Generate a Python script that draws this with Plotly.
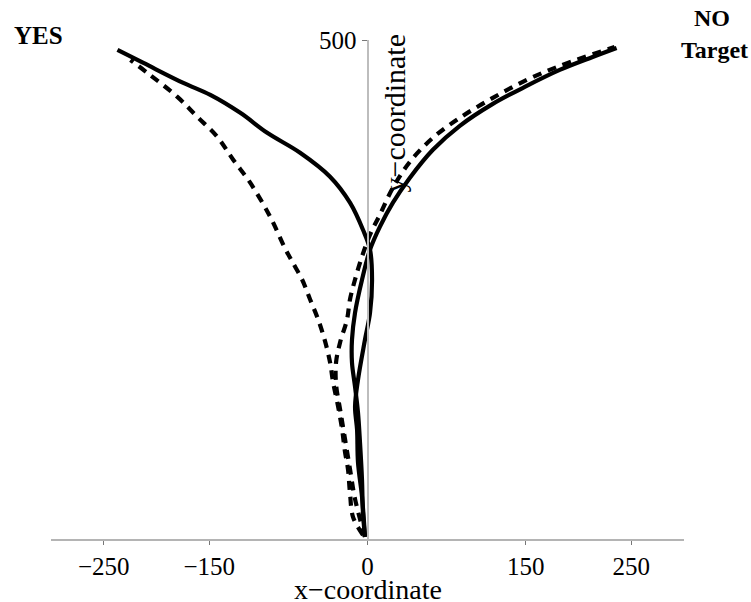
import plotly.graph_objects as go

# ---- data ----
yes_solid_x = [-2.4, -5.2, -9.0, -9.9, -11.8, -9.0, -2.4, 2.4, 4.3, 2.4, -4.3, -16.6, -35.5, -63.9, -95.1, -120.6, -149.0, -174.6, -212.4, -237.0]
yes_solid_y = [2.3, 42.4, 76.5, 109.5, 132.6, 159.6, 199.7, 226.8, 259.8, 289.9, 309.9, 337.0, 363.0, 387.0, 407.0, 427.0, 445.0, 457.0, 477.0, 490.0]

no_solid_x = [-2.4, -4.3, -5.2, -7.1, -9.0, -11.8, -14.7, -14.7, -11.8, -5.2, 2.4, 11.8, 24.1, 40.2, 62.0, 87.5, 118.8, 150.9, 182.2, 213.4, 236.1]
no_solid_y = [2.3, 26.4, 59.4, 96.5, 126.6, 152.6, 176.7, 199.7, 226.8, 259.8, 289.9, 313.0, 337.0, 362.0, 390.0, 414.0, 436.0, 454.0, 470.0, 483.0, 492.0]

yes_dash_x = [-4.3, -13.7, -16.6, -18.5, -21.3, -24.1, -27.9, -32.6, -35.5, -40.2, -46.8, -54.4, -62.0, -71.4, -78.5, -92.3, -111.2, -127.3, -142.4, -161.3, -180.2, -208.6, -224.7]
yes_dash_y = [4.0, 22.0, 46.0, 70.0, 87.0, 110.0, 133.0, 157.0, 177.0, 198.0, 220.0, 240.0, 260.0, 278.0, 292.0, 323.0, 357.0, 380.0, 403.0, 423.0, 443.0, 467.0, 480.0]

no_dash_x = [-2.4, -11.8, -16.6, -21.3, -26.0, -29.8, -29.8, -26.0, -19.4, -16.6, -11.8, -5.2, 2.4, 11.8, 24.1, 40.2, 62.0, 87.5, 118.8, 150.9, 182.2, 234.2]
no_dash_y = [2.0, 40.0, 70.0, 100.0, 130.0, 155.0, 177.0, 197.0, 220.0, 240.0, 260.0, 283.0, 305.0, 325.0, 352.0, 378.0, 402.0, 422.0, 442.0, 460.0, 474.0, 493.0]

x_ticks = [-250, -150, 0, 150, 250]
x_tick_text = ["\u2212250", "\u2212150", "0", "150", "250"]
y_ticks = [500]
y_tick_text = ["500"]

FONT = "Liberation Serif"

fig = go.Figure()
line_w = 4.2
for xs, ys, dash in [(yes_dash_x, yes_dash_y, "9px,7px"), (no_dash_x, no_dash_y, "9px,7px"),
                     (yes_solid_x, yes_solid_y, "solid"), (no_solid_x, no_solid_y, "solid")]:
    fig.add_trace(go.Scatter(x=xs, y=ys, mode="lines",
                             line=dict(color="black", width=line_w, dash=dash, shape="spline", smoothing=1.0),
                             showlegend=False))

fig.update_layout(
    width=751, height=602,
    margin=dict(l=51, r=67, t=40, b=63),
    paper_bgcolor="white", plot_bgcolor="white",
    font=dict(family=FONT, color="black", size=25),
    xaxis=dict(range=[-300, 300], showgrid=False, zeroline=False,
               showline=True, linecolor="#b4b4b4", linewidth=2,
               ticks="outside", ticklen=4, tickwidth=1, tickcolor="#777777",
               tickvals=x_ticks, ticktext=x_tick_text,
               tickfont=dict(family=FONT, size=25, color="black")),
    yaxis=dict(range=[0, 500], showgrid=False, zeroline=False,
               anchor="free", position=0.5,
               showline=True, linecolor="#bdbdbd", linewidth=2,
               ticks="outside", ticklen=5, tickwidth=1, tickcolor="#777777",
               tickvals=y_ticks, ticktext=y_tick_text,
               tickfont=dict(family=FONT, size=25, color="black")),
)

fig.add_annotation(text="x\u2212coordinate", xref="x", x=0, yref="paper", y=0,
                   yanchor="top", yshift=-34, showarrow=False, borderpad=0,
                   font=dict(family=FONT, size=28, color="black"))
fig.add_annotation(text="y\u2212coordinate", xref="x", x=0, yref="y", y=500,
                   xanchor="left", yanchor="top", xshift=8, yshift=8, textangle=-90,
                   showarrow=False, font=dict(family=FONT, size=30, color="black"))
fig.add_annotation(text="<b>YES</b>", xref="paper", yref="paper", x=-51/633, y=1,
                   xanchor="left", yanchor="middle", xshift=12, yshift=5,
                   showarrow=False, font=dict(family=FONT, size=25, color="black"))
fig.add_annotation(text="<b>NO</b>", xref="paper", yref="paper", x=1, y=1,
                   xanchor="center", yanchor="middle", xshift=28, yshift=22,
                   showarrow=False, font=dict(family=FONT, size=24, color="black"))
fig.add_annotation(text="<b>Target</b>", xref="paper", yref="paper", x=1, y=1,
                   xanchor="center", yanchor="middle", xshift=30, yshift=-10,
                   showarrow=False, font=dict(family=FONT, size=24, color="black"))

fig.write_html("out.html")
